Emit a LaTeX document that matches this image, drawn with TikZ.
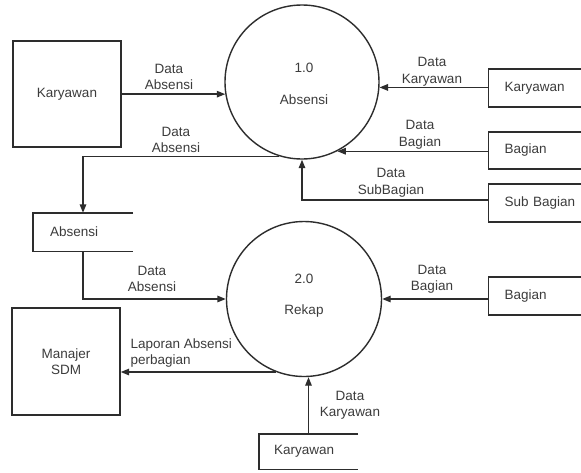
\documentclass[tikz,border=0pt]{standalone}
\usepackage{fontspec}
\setmainfont{Liberation Sans}
\usetikzlibrary{arrows.meta,calc}
\definecolor{ink}{RGB}{45,45,45}
\definecolor{txt}{RGB}{60,60,60}
\begin{document}
\begin{tikzpicture}[x=1pt,y=-1pt,
  every node/.style={font=\fontsize{13.5}{16.5}\selectfont, text=txt},
  flow/.style={draw=ink, line width=1.4pt, -{Triangle[length=8.5pt,width=6.5pt]}},
  line/.style={draw=ink, line width=1.4pt},
  proc/.style={circle, draw=ink, line width=1.4pt, minimum size=154pt, inner sep=0pt},
  entity/.style={rectangle, draw=ink, line width=1.4pt, minimum width=108pt, minimum height=106pt, align=center},
  source/.style={rectangle, draw=ink, line width=1.4pt, anchor=west, minimum width=110pt, minimum height=38pt, inner xsep=16pt, text width=78pt, align=left},
  store/.style={minimum width=100pt, minimum height=38pt, inner xsep=17pt, text width=66pt, align=left},
  lbl/.style={align=center}]

\fill[white] (0,0) rectangle (581,472);
\clip (0,0) rectangle (581,472);

% processes
\node[proc] (c1) at (302,82) {};
\node (c1num) at (304,68) {1.0};
\node (c1name) at (304,100) {Absensi};
\node[proc, minimum size=155pt] (c2) at (304,299) {};
\node (c2num) at (304,279) {2.0};
\node (c2name) at (304,311) {Rekap};

% external entities
\node[entity] (kar) at (67,94) {Karyawan};
\node[entity, minimum height=107pt] (sdm) at (66,361.5) {Manajer\\SDM};
\node[source] (srcK) at (488,88) {Karyawan};
\node[source, minimum height=37pt] (srcB) at (488,150.5) {Bagian};
\node[source] (srcS) at (488,203) {Sub Bagian};
\node[source] (srcB2) at (488,296) {Bagian};

% data stores (open on the right)
\node[store] (stA) at (83,232) {Absensi};
\draw[line] (stA.north east) -- (stA.north west) -- (stA.south west) -- (stA.south east);
\node[store, minimum width=99pt, minimum height=35pt, inner xsep=15pt, text width=69pt] (stK) at (308.5,451.5) {Karyawan};
\draw[line] (stK.north east) -- (stK.north west) -- (stK.south west) -- (stK.south east);

% flows into and out of 1.0
\draw[flow] (c1.189 -| kar.east) -- (c1.189);
\draw[flow] (c1.-4.5 -| srcK.west) -- (c1.-4.5);
\draw[flow] (c1.-63.6 -| srcB.west) -- (c1.-63.6);
\draw[flow] ([yshift=3pt]srcS.west) -| (c1.south);
\draw[flow] (c1.253.9) -| (stA.north);

% flows into and out of 2.0
\draw[flow] (stA.south) |- (c2.west);
\draw[flow] (c2.east -| srcB2.west) -- (c2.east);
\draw[flow] (c2.249.2) -- (c2.249.2 -| sdm.east);
\draw[flow] (stK.north) -- (stK.north |- c2.south);

% flow labels
\node[lbl] (l1) at (169,77) {Data\\Absensi};
\node[lbl] (l2) at (432,72) {Data\\Karyawan};
\node[lbl] (l3) at (420,135) {Data\\Bagian};
\node[lbl] (l4) at (391,183) {Data\\SubBagian};
\node[lbl] (l5) at (176,140) {Data\\Absensi};
\node[lbl] (l6) at (152,279) {Data\\Absensi};
\node[lbl] (l7) at (432,279) {Data\\Bagian};
\node[align=left, anchor=west] (l8) at (127,353) {Laporan Absensi\\perbagian};
\node[lbl] (l9) at (350,405) {Data\\Karyawan};
\end{tikzpicture}
\end{document}
